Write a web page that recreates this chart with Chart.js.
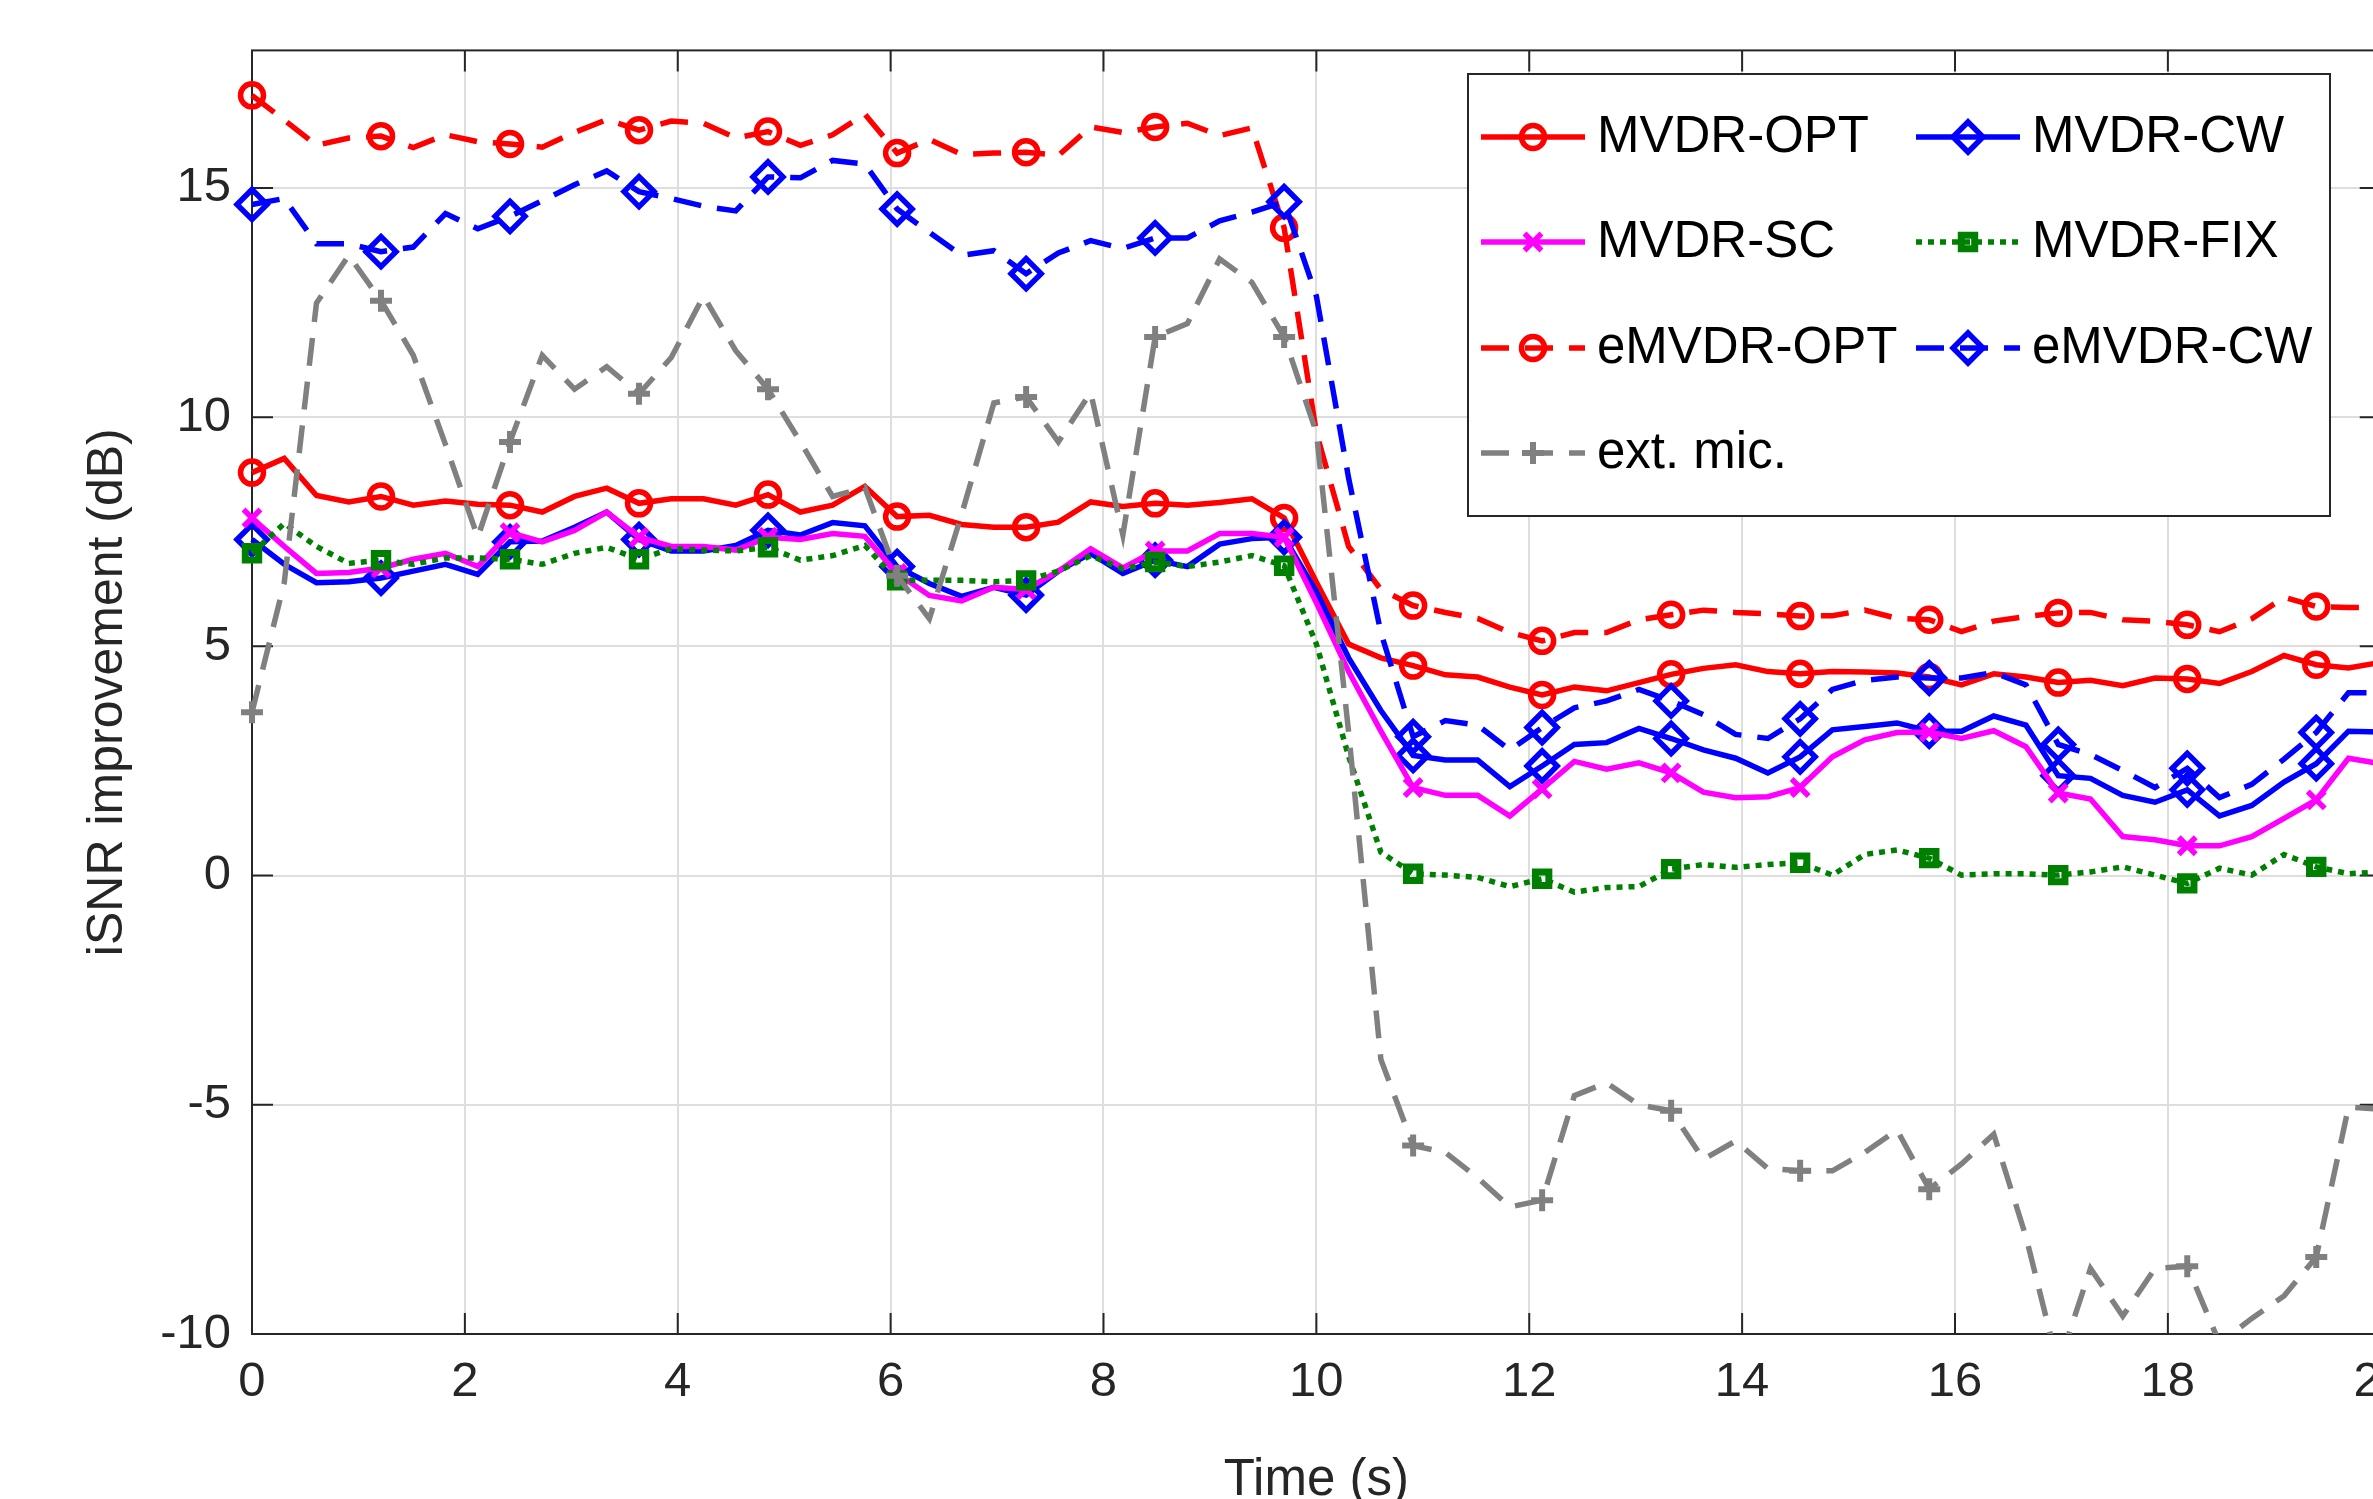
<!DOCTYPE html>
<html>
<head>
<meta charset="utf-8">
<title>iSNR improvement</title>
<script src="https://cdn.jsdelivr.net/npm/chart.js@4.4.1/dist/chart.umd.min.js"></script>
<style>
  html, body { margin: 0; padding: 0; background: #fff; overflow: hidden; }
  #wrap { position: relative; width: 2373px; height: 1499px; overflow: hidden; }
  #chart { position: absolute; left: 0; top: 0; }
</style>
</head>
<body>
<div id="wrap"><canvas id="chart" width="2427" height="1540"></canvas></div>
<script>
// time axis (s), one value every 20/66 s
const times = [0, 0.303, 0.606, 0.909, 1.212, 1.515, 1.818, 2.121, 2.424, 2.727,
  3.030, 3.333, 3.636, 3.939, 4.242, 4.545, 4.848, 5.152, 5.455, 5.758,
  6.061, 6.364, 6.667, 6.970, 7.273, 7.576, 7.879, 8.182, 8.485, 8.788,
  9.091, 9.394, 9.697, 10.000, 10.303, 10.606, 10.909, 11.212, 11.515, 11.818,
  12.121, 12.424, 12.727, 13.030, 13.333, 13.636, 13.939, 14.242, 14.545, 14.848,
  15.152, 15.455, 15.758, 16.061, 16.364, 16.667, 16.970, 17.273, 17.576, 17.879,
  18.182, 18.485, 18.788, 19.091, 19.394, 19.697, 20.000];

const mvdrOpt = [8.79, 9.10, 8.29, 8.15, 8.27, 8.08, 8.17, 8.10, 8.08, 7.93,
  8.27, 8.45, 8.12, 8.22, 8.22, 8.08, 8.31, 7.93, 8.08, 8.49,
  7.83, 7.86, 7.66, 7.60, 7.60, 7.71, 8.15, 8.05, 8.12, 8.08,
  8.14, 8.22, 7.80, 6.40, 5.05, 4.75, 4.58, 4.38, 4.33, 4.11,
  3.94, 4.11, 4.03, 4.21, 4.39, 4.52, 4.60, 4.45, 4.40, 4.45,
  4.44, 4.42, 4.33, 4.16, 4.40, 4.33, 4.21, 4.26, 4.14, 4.31,
  4.29, 4.19, 4.45, 4.80, 4.60, 4.53, 4.65];

const mvdrCw = [7.33, 6.79, 6.39, 6.41, 6.49, 6.64, 6.79, 6.57, 7.28, 7.30,
  7.60, 7.93, 7.33, 7.08, 7.08, 7.20, 7.53, 7.43, 7.70, 7.63,
  6.74, 6.37, 6.09, 6.29, 6.12, 6.64, 7.03, 6.59, 6.88, 6.74,
  7.23, 7.35, 7.38, 6.19, 4.75, 3.60, 2.62, 2.52, 2.52, 1.94,
  2.39, 2.86, 2.90, 3.21, 2.99, 2.74, 2.56, 2.24, 2.59, 3.18,
  3.25, 3.33, 3.15, 3.15, 3.48, 3.28, 2.18, 2.12, 1.75, 1.60,
  1.87, 1.30, 1.53, 2.04, 2.44, 3.15, 3.13];

const mvdrSc = [7.80, 7.18, 6.59, 6.61, 6.71, 6.90, 7.03, 6.74, 7.48, 7.28,
  7.53, 7.93, 7.38, 7.18, 7.18, 7.10, 7.38, 7.33, 7.46, 7.40,
  6.59, 6.11, 5.99, 6.29, 6.24, 6.64, 7.13, 6.71, 7.08, 7.08,
  7.46, 7.46, 7.38, 5.95, 4.45, 3.15, 1.92, 1.75, 1.75, 1.30,
  1.89, 2.49, 2.32, 2.46, 2.24, 1.82, 1.70, 1.72, 1.92, 2.59,
  2.96, 3.12, 3.13, 2.99, 3.16, 2.81, 1.80, 1.67, 0.85, 0.78,
  0.65, 0.65, 0.85, 1.25, 1.65, 2.56, 2.44];

const mvdrFix = [7.03, 7.68, 7.18, 6.81, 6.88, 6.79, 6.93, 6.93, 6.90, 6.79,
  7.03, 7.16, 6.90, 7.13, 7.10, 7.08, 7.16, 6.88, 6.98, 7.20,
  6.44, 6.44, 6.44, 6.41, 6.44, 6.64, 6.98, 6.69, 6.84, 6.74,
  6.84, 6.98, 6.76, 5.05, 2.60, 0.51, 0.04, 0.01, -0.04, -0.24,
  -0.07, -0.36, -0.26, -0.24, 0.14, 0.24, 0.18, 0.24, 0.28, 0.01,
  0.46, 0.56, 0.38, 0.01, 0.04, 0.04, 0.01, 0.08, 0.19, 0.01,
  -0.17, 0.16, 0.01, 0.46, 0.19, 0.04, 0.08];

const emvdrOpt = [17.02, 16.48, 15.93, 16.09, 16.13, 15.88, 16.16, 16.01, 15.96, 15.89,
  16.21, 16.49, 16.26, 16.46, 16.41, 16.09, 16.23, 15.93, 16.16, 16.61,
  15.76, 16.06, 15.73, 15.76, 15.78, 15.71, 16.33, 16.21, 16.33, 16.41,
  16.14, 16.31, 14.13, 9.66, 7.18, 6.24, 5.89, 5.74, 5.61, 5.30,
  5.12, 5.30, 5.30, 5.58, 5.69, 5.79, 5.74, 5.71, 5.66, 5.67,
  5.79, 5.61, 5.58, 5.32, 5.55, 5.65, 5.73, 5.74, 5.58, 5.55,
  5.47, 5.32, 5.60, 6.07, 5.87, 5.85, 5.85];

const emvdrCw = [14.64, 14.77, 13.78, 13.78, 13.61, 13.71, 14.44, 14.11, 14.38, 14.72,
  15.07, 15.37, 14.92, 14.77, 14.60, 14.50, 15.24, 15.22, 15.60, 15.52,
  14.54, 14.03, 13.53, 13.63, 13.13, 13.58, 13.85, 13.68, 13.91, 13.91,
  14.28, 14.47, 14.70, 12.64, 8.67, 5.30, 3.03, 3.38, 3.28, 2.74,
  3.23, 3.66, 3.81, 4.06, 3.81, 3.51, 3.08, 2.99, 3.42, 4.06,
  4.26, 4.33, 4.31, 4.31, 4.43, 4.16, 2.86, 2.64, 2.29, 1.92,
  2.34, 1.70, 1.99, 2.54, 3.12, 3.99, 3.99];

const extMic = [3.56, 6.39, 12.49, 13.53, 12.54, 11.35, 9.40, 7.38, 9.46, 11.35,
  10.61, 11.10, 10.51, 11.30, 12.64, 11.45, 10.61, 9.46, 8.27, 8.47,
  6.54, 5.60, 7.88, 10.31, 10.44, 9.46, 10.54, 7.43, 11.75, 12.04,
  13.45, 12.94, 11.75, 9.66, 3.13, -4.01, -5.89, -6.04, -6.59, -7.23,
  -7.08, -4.80, -4.52, -5.00, -5.13, -6.19, -5.79, -6.39, -6.44, -6.44,
  -6.04, -5.55, -6.84, -6.29, -5.64, -7.88, -10.7, -8.57, -9.61, -8.57,
  -8.52, -10.2, -9.66, -9.17, -8.32, -5.05, -5.10];

const xTicks = [0, 2, 4, 6, 8, 10, 12, 14, 16, 18, 20];
const yTicks = [-10, -5, 0, 5, 10, 15];

const AXIS = '#262626';
const DASH = [28, 16];
const DOT = [6, 6];

function series(label, values, color, dash, style, radius, markerWidth) {
  return {
    label: label,
    data: values.map((v, i) => ({ x: times[i], y: v })),
    borderColor: color,
    backgroundColor: color,
    borderWidth: 5.5,
    borderDash: dash,
    pointStyle: style,
    pointRadius: (ctx) => ctx.dataIndex % 4 === 0 ? radius : 0,
    pointHoverRadius: 0,
    pointBorderWidth: markerWidth,
    pointBorderColor: color,
    pointBackgroundColor: 'rgba(0,0,0,0)',
    markerSize: radius,
    tension: 0,
    fill: false,
    clip: { left: 20, right: 20, top: 0, bottom: 0 }
  };
}

// legend order (row by row, two columns)
const legendItems = [
  series('MVDR-OPT', mvdrOpt, '#ff0000', [], 'circle', 11.5, 5.5),
  series('MVDR-CW', mvdrCw, '#0000ff', [], 'rectRot', 15, 5.5),
  series('MVDR-SC', mvdrSc, '#ff00ff', [], 'crossRot', 12, 5.5),
  series('MVDR-FIX', mvdrFix, '#008000', DOT, 'rect', 9.5, 7),
  series('eMVDR-OPT', emvdrOpt, '#ff0000', DASH, 'circle', 11.5, 5.5),
  series('eMVDR-CW', emvdrCw, '#0000ff', DASH, 'rectRot', 15, 5.5),
  series('ext. mic.', extMic, '#808080', DASH, 'cross', 11, 6)
];

// box with inward ticks on all four sides
const axesBox = {
  id: 'axesBox',
  beforeDatasetsDraw(chart) {
    const { ctx, chartArea: a, scales: { x, y } } = chart;
    ctx.save();
    ctx.strokeStyle = AXIS;
    ctx.lineWidth = 2;
    ctx.beginPath();
    xTicks.forEach(v => {
      const px = x.getPixelForValue(v);
      ctx.moveTo(px, a.bottom); ctx.lineTo(px, a.bottom - 21);
      ctx.moveTo(px, a.top); ctx.lineTo(px, a.top + 21);
    });
    yTicks.forEach(v => {
      const py = y.getPixelForValue(v);
      ctx.moveTo(a.left, py); ctx.lineTo(a.left + 21, py);
      ctx.moveTo(a.right, py); ctx.lineTo(a.right - 21, py);
    });
    ctx.stroke();
    ctx.strokeRect(a.left, a.top, a.right - a.left, a.bottom - a.top);
    ctx.restore();
  }
};

// MATLAB style legend box, 2 columns
const boxLegend = {
  id: 'boxLegend',
  afterDraw(chart) {
    const ctx = chart.ctx;
    const box = { x: 1468, y: 74, w: 862, h: 442 };
    const rows = [137, 242, 348, 453];
    const cols = [1481, 1916];
    ctx.save();
    ctx.fillStyle = '#ffffff';
    ctx.fillRect(box.x, box.y, box.w, box.h);
    ctx.strokeStyle = AXIS;
    ctx.lineWidth = 2;
    ctx.strokeRect(box.x, box.y, box.w, box.h);

    legendItems.forEach((ds, i) => {
      const cx = cols[i % 2];
      const cy = rows[Math.floor(i / 2)];
      ctx.save();
      ctx.strokeStyle = ds.borderColor;
      ctx.lineWidth = ds.borderWidth;
      ctx.setLineDash(ds.borderDash);
      ctx.beginPath();
      ctx.moveTo(cx, cy);
      ctx.lineTo(cx + 104, cy);
      ctx.stroke();
      ctx.setLineDash([]);
      ctx.fillStyle = 'rgba(0,0,0,0)';
      ctx.lineWidth = ds.pointBorderWidth;
      Chart.helpers.drawPoint(ctx, {
        pointStyle: ds.pointStyle, radius: ds.markerSize,
        borderWidth: ds.pointBorderWidth, rotation: 0
      }, cx + 52, cy);
      ctx.restore();

      ctx.fillStyle = '#000000';
      ctx.font = "51px 'Liberation Sans', Arial, sans-serif";
      ctx.textBaseline = 'middle';
      ctx.textAlign = 'left';
      ctx.fillText(ds.label, cx + 116, cy + 1);
    });
    ctx.restore();
  }
};

Chart.defaults.font.family = "'Liberation Sans', Arial, sans-serif";
Chart.defaults.color = AXIS;

new Chart(document.getElementById('chart'), {
  type: 'line',
  data: { datasets: legendItems.slice().reverse() },
  options: {
    responsive: false,
    animation: false,
    events: [],
    layout: { padding: { left: 0, top: 39, right: 40, bottom: 0 } },
    plugins: { legend: { display: false }, tooltip: { enabled: false } },
    scales: {
      x: {
        type: 'linear', min: 0, max: 20,
        afterBuildTicks: (s) => { s.ticks = xTicks.map(v => ({ value: v })); },
        afterFit: (s) => { s.height = 206; },
        grid: { color: '#dedede', lineWidth: 2, drawTicks: false },
        border: { display: false },
        ticks: { color: AXIS, font: { size: 49 }, padding: 19, maxRotation: 0, autoSkip: false },
        title: { display: true, text: 'Time (s)', color: AXIS, font: { size: 51 }, padding: { top: 0, bottom: 28 } }
      },
      y: {
        type: 'linear', min: -10, max: 18,
        afterBuildTicks: (s) => { s.ticks = yTicks.map(v => ({ value: v })); },
        afterFit: (s) => { s.width = 252; },
        grid: { color: '#dedede', lineWidth: 2, drawTicks: false },
        border: { display: false },
        ticks: { color: AXIS, font: { size: 49 }, padding: 21 },
        title: { display: true, text: 'iSNR improvement (dB)', color: AXIS, font: { size: 50 }, padding: { top: 78, bottom: 0 } }
      }
    }
  },
  plugins: [axesBox, boxLegend]
});
</script>
</body>
</html>
